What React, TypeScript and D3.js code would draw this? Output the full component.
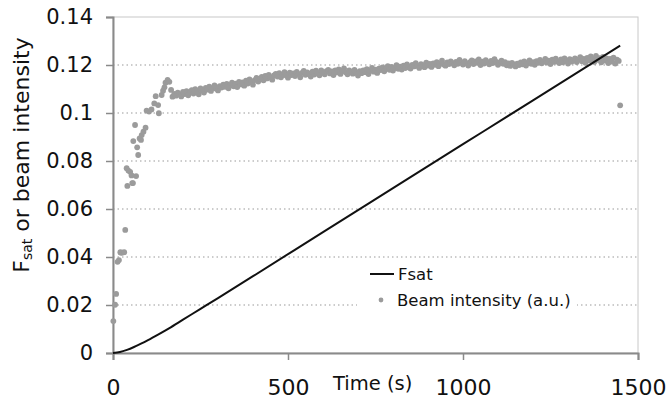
import React, { useEffect, useRef } from "react";
import * as d3 from "d3";

// y axis ticks and x axis ticks
const yTicks = [0, 0.02, 0.04, 0.06, 0.08, 0.1, 0.12, 0.14];
const xTicks = [0, 500, 1000, 1500];

// Fsat curve (time s, value)
const fsatTime = [0, 20, 40, 60, 80, 100, 130, 160, 200, 250, 300, 400, 600, 800, 1000, 1200, 1449];
const fsatValue = [0, 0.0004, 0.0013, 0.0025, 0.0039, 0.0054, 0.0078, 0.0103, 0.0139, 0.0184, 0.0229, 0.032, 0.0504, 0.0687, 0.087, 0.1053, 0.1281];

// beam intensity, first seconds (time s, value)
const beamEarlyTime = [1, 6, 9, 13, 17, 21, 23, 27, 32, 35, 39, 41, 44, 49, 53, 55, 57, 58, 63, 66, 69, 72, 76, 80, 82, 87, 93, 96, 103, 110, 118, 122, 129, 131, 139, 143, 147, 150, 156, 161, 166];
const beamEarlyValue = [0.0133, 0.0201, 0.0246, 0.038, 0.0387, 0.042, 0.0417, 0.0418, 0.042, 0.0513, 0.077, 0.0696, 0.076, 0.0755, 0.074, 0.0708, 0.0708, 0.0883, 0.095, 0.0737, 0.0857, 0.0825, 0.0894, 0.0888, 0.0908, 0.0922, 0.0939, 0.101, 0.1006, 0.1015, 0.104, 0.107, 0.1033, 0.0999, 0.1075, 0.1093, 0.1107, 0.1126, 0.1138, 0.113, 0.1096];

// beam intensity plateau, one reading every 5 s from 170 s
const beamBandStart = 170;
const beamBandStep = 5;
const beamBand = [
  0.1068, 0.1080, 0.1072, 0.1085, 0.1077, 0.1069, 0.1088, 0.1079, 0.1091, 0.1074,
  0.1086, 0.1095, 0.1081, 0.1099, 0.1090, 0.1078, 0.1102, 0.1093, 0.1085, 0.1105,
  0.1097, 0.1110, 0.1092, 0.1104, 0.1115, 0.1101, 0.1094, 0.1112, 0.1106, 0.1118,
  0.1109, 0.1121, 0.1103, 0.1116, 0.1126, 0.1111, 0.1122, 0.1108, 0.1130, 0.1119,
  0.1127, 0.1114, 0.1135, 0.1123, 0.1140, 0.1129, 0.1118, 0.1137, 0.1146, 0.1131,
  0.1142, 0.1150, 0.1136, 0.1155, 0.1144, 0.1159, 0.1148, 0.1139, 0.1157, 0.1163,
  0.1152, 0.1166, 0.1149, 0.1160, 0.1170, 0.1156, 0.1147, 0.1168, 0.1158, 0.1165,
  0.1154, 0.1171, 0.1162, 0.1149, 0.1167, 0.1175, 0.1159, 0.1169, 0.1163, 0.1152,
  0.1172, 0.1160, 0.1176, 0.1166, 0.1157, 0.1178, 0.1168, 0.1161, 0.1174, 0.1180,
  0.1165, 0.1173, 0.1158, 0.1177, 0.1169, 0.1182, 0.1163, 0.1175, 0.1186, 0.1170,
  0.1161, 0.1178, 0.1171, 0.1164, 0.1180, 0.1168, 0.1156, 0.1174, 0.1166, 0.1177,
  0.1170, 0.1183, 0.1162, 0.1176, 0.1188, 0.1172, 0.1181, 0.1167, 0.1185, 0.1179,
  0.1190, 0.1174, 0.1186, 0.1195, 0.1180, 0.1192, 0.1177, 0.1188, 0.1199, 0.1184,
  0.1193, 0.1181, 0.1197, 0.1187, 0.1203, 0.1191, 0.1185, 0.1200, 0.1194, 0.1208,
  0.1196, 0.1188, 0.1204, 0.1199, 0.1191, 0.1210, 0.1198, 0.1205, 0.1192, 0.1207,
  0.1201, 0.1212, 0.1195, 0.1206, 0.1218, 0.1202, 0.1197, 0.1211, 0.1204, 0.1215,
  0.1208, 0.1199, 0.1213, 0.1205, 0.1221, 0.1210, 0.1202, 0.1216, 0.1207, 0.1198,
  0.1212, 0.1219, 0.1204, 0.1215, 0.1209, 0.1223, 0.1200, 0.1214, 0.1206, 0.1220,
  0.1211, 0.1203, 0.1217, 0.1208, 0.1224, 0.1213, 0.1201, 0.1210, 0.1218, 0.1205,
  0.1212, 0.1199, 0.1207, 0.1196, 0.1209, 0.1202, 0.1194, 0.1206, 0.1200, 0.1211,
  0.1203, 0.1215, 0.1198, 0.1208, 0.1219, 0.1205, 0.1212, 0.1201, 0.1216, 0.1209,
  0.1221, 0.1207, 0.1214, 0.1225, 0.1210, 0.1218, 0.1204, 0.1222, 0.1213, 0.1226,
  0.1215, 0.1208, 0.1223, 0.1211, 0.1228, 0.1217, 0.1206, 0.1224, 0.1214, 0.1220,
  0.1227, 0.1212, 0.1222, 0.1233, 0.1216, 0.1225, 0.1209, 0.1230, 0.1219, 0.1236,
  0.1224, 0.1213, 0.1238, 0.1221, 0.1229, 0.1211, 0.1234, 0.1218, 0.1227, 0.1208,
  0.1225, 0.1214, 0.1231, 0.1206, 0.1222, 0.1217,
];

// last reading, drops off
const beamLastTime = [1449];
const beamLastValue = [0.1032];

const FONT = "'DejaVu Sans', Verdana, sans-serif";

export default function App() {
  const ref = useRef<SVGSVGElement | null>(null);

  useEffect(() => {
    const svg = d3.select(ref.current);
    svg.selectAll("*").remove();

    const x = d3.scaleLinear().domain([0, 1500]).range([113, 638]);
    const y = d3.scaleLinear().domain([0, 0.14]).range([353, 17]);

    // plot frame (light)
    svg
      .append("rect")
      .attr("x", x(0))
      .attr("y", y(0.14))
      .attr("width", x(1500) - x(0))
      .attr("height", y(0) - y(0.14))
      .attr("fill", "none")
      .attr("stroke", "#c8c8c8")
      .attr("stroke-width", 1);

    // dotted gridlines
    svg
      .append("g")
      .selectAll("line")
      .data(yTicks.filter(t => t > 0 && t < 0.14))
      .enter()
      .append("line")
      .attr("x1", x(0))
      .attr("x2", x(1500))
      .attr("y1", d => y(d))
      .attr("y2", d => y(d))
      .attr("stroke", "#9a9a9a")
      .attr("stroke-width", 1.2)
      .attr("stroke-dasharray", "1.5,3");

    // y axis
    const yAxis = d3
      .axisLeft(y)
      .tickValues(yTicks)
      .tickSize(7)
      .tickPadding(13)
      .tickFormat(d => (d === 0 ? "0" : String(+d)));
    const gy = svg
      .append("g")
      .attr("transform", `translate(${x(0)},0)`)
      .call(yAxis);
    gy.select(".domain").attr("stroke", "#8a8a8a").attr("stroke-width", 2);
    gy.selectAll(".tick line").attr("stroke", "#8a8a8a").attr("stroke-width", 1.5);
    gy.selectAll(".tick text")
      .attr("font-family", FONT)
      .attr("font-size", 21)
      .attr("fill", "#111");

    // x axis
    const xAxis = d3
      .axisBottom(x)
      .tickValues(xTicks)
      .tickSize(7)
      .tickPadding(19)
      .tickFormat(d => String(d));
    const gx = svg
      .append("g")
      .attr("transform", `translate(0,${y(0)})`)
      .call(xAxis);
    gx.select(".domain").attr("stroke", "#8a8a8a").attr("stroke-width", 2);
    gx.selectAll(".tick line").attr("stroke", "#8a8a8a").attr("stroke-width", 1.5);
    gx.selectAll(".tick text")
      .attr("font-family", FONT)
      .attr("font-size", 22)
      .attr("fill", "#111");

    // scatter: beam intensity
    const beam: [number, number][] = [
      ...beamEarlyTime.map((t, i) => [t, beamEarlyValue[i]] as [number, number]),
      ...beamBand.map((v, i) => [beamBandStart + i * beamBandStep, v] as [number, number]),
      ...beamLastTime.map((t, i) => [t, beamLastValue[i]] as [number, number]),
    ];
    svg
      .append("g")
      .selectAll("circle")
      .data(beam)
      .enter()
      .append("circle")
      .attr("cx", d => x(d[0]))
      .attr("cy", d => y(d[1]))
      .attr("r", 2.9)
      .attr("fill", "#9b9b9b");

    // Fsat line
    const fsat: [number, number][] = fsatTime.map((t, i) => [t, fsatValue[i]]);
    const line = d3
      .line<[number, number]>()
      .x(d => x(d[0]))
      .y(d => y(d[1]))
      .curve(d3.curveMonotoneX);
    svg
      .append("path")
      .datum(fsat)
      .attr("d", line)
      .attr("fill", "none")
      .attr("stroke", "#111")
      .attr("stroke-width", 2);

    // legend
    const lg = svg.append("g");
    lg.append("rect")
      .attr("x", 357)
      .attr("y", 262)
      .attr("width", 220)
      .attr("height", 52)
      .attr("fill", "#fff");
    lg.append("line")
      .attr("x1", 370)
      .attr("x2", 394)
      .attr("y1", 274)
      .attr("y2", 274)
      .attr("stroke", "#111")
      .attr("stroke-width", 2);
    lg.append("text")
      .attr("x", 398)
      .attr("y", 280)
      .attr("font-family", FONT)
      .attr("font-size", 16.5)
      .attr("fill", "#111")
      .text("Fsat");
    lg.append("circle")
      .attr("cx", 381)
      .attr("cy", 300)
      .attr("r", 2.4)
      .attr("fill", "#9b9b9b");
    lg.append("text")
      .attr("x", 397)
      .attr("y", 306)
      .attr("font-family", FONT)
      .attr("font-size", 16.5)
      .attr("fill", "#111")
      .text("Beam intensity (a.u.)");

    // axis titles
    svg
      .append("text")
      .attr("x", 333)
      .attr("y", 390)
      .attr("font-family", FONT)
      .attr("font-size", 19.5)
      .attr("fill", "#111")
      .text("Time (s)");

    const yt = svg
      .append("text")
      .attr("transform", "translate(29,155) rotate(-90)")
      .attr("text-anchor", "middle")
      .attr("font-family", FONT)
      .attr("font-size", 22)
      .attr("fill", "#111");
    yt.append("tspan").text("F");
    yt.append("tspan").attr("font-size", 14).attr("dy", 3).text("sat");
    yt.append("tspan").attr("dy", -3).text(" or beam intensity");
  }, []);

  return (
    <svg
      ref={ref}
      width={669}
      height={403}
      style={{ position: "absolute", left: 0, top: 0, background: "#fff" }}
    />
  );
}
